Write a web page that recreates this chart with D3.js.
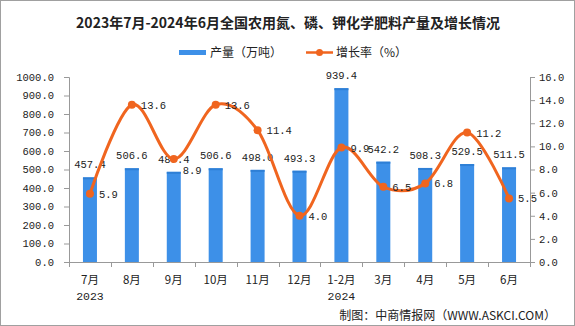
<!DOCTYPE html>
<html><head><meta charset="utf-8">
<script src="https://cdn.jsdelivr.net/npm/d3@7/dist/d3.min.js"></script>
<style>body{margin:0;background:#fff}svg{display:block}</style>
</head><body>
<svg id="c" width="575" height="326"></svg>
<script>
const categories = ["7月","8月","9月","10月","11月","12月","1-2月","3月","4月","5月","6月"];
const yearLabels = ["2023","","","","","","2024","","","",""];
const production = [457.4,506.6,487.4,506.6,498.0,493.3,939.4,542.2,508.3,529.5,511.5];
const growth = [5.9,13.6,8.9,13.6,11.4,4.0,9.9,6.5,6.8,11.2,5.5];
const leftTicks = [0,100,200,300,400,500,600,700,800,900,1000];
const rightTicks = [0,2,4,6,8,10,12,14,16];

const svg = d3.select("#c");
const mono = "'Liberation Mono','DejaVu Sans Mono',monospace";
const cjk = "'Noto Sans CJK SC','Noto Sans',sans-serif";
const blue = "#3d90e8", orange = "#f0651f", axisC = "#999";

svg.append("rect").attr("x",0.5).attr("y",0.5).attr("width",574).attr("height",325)
  .attr("fill","#fff").attr("stroke","#a0a0a0");

const L = 69, R = 530, T = 77, B = 262;
const x = d3.scaleBand().domain(categories).range([L,R]);
const yL = d3.scaleLinear().domain([0,1000]).range([B,T]);
const yR = d3.scaleLinear().domain([0,16]).range([B,T]);

// title
svg.append("text").attr("x",288).attr("y",28).attr("text-anchor","middle")
  .attr("font-family",cjk).attr("font-weight","bold").attr("font-size",14).attr("fill","#222")
  .text("2023年7月-2024年6月全国农用氮、磷、钾化学肥料产量及增长情况");

// legend
const lg = svg.append("g").attr("font-family",cjk).attr("font-size",12).attr("fill","#222");
lg.append("rect").attr("x",179).attr("y",50).attr("width",27).attr("height",5).attr("fill",blue);
lg.append("text").attr("x",210).attr("y",57).text("产量（万吨）");
lg.append("line").attr("x1",306).attr("x2",333).attr("y1",52.5).attr("y2",52.5).attr("stroke",orange).attr("stroke-width",2.5);
lg.append("circle").attr("cx",319.5).attr("cy",52.5).attr("r",3.5).attr("fill",orange);
lg.append("text").attr("x",336).attr("y",57).text("增长率（%）");

// axes
const axL = d3.axisLeft(yL).tickValues(leftTicks).tickFormat(d3.format(".1f")).tickSize(5).tickPadding(10);
const axR = d3.axisRight(yR).tickValues(rightTicks).tickFormat(d3.format(".1f")).tickSize(5).tickPadding(4);
function style(g){
  g.select(".domain").attr("stroke",axisC);
  g.selectAll(".tick line").attr("stroke",axisC);
  g.selectAll(".tick text").attr("font-family",mono).attr("font-size",10.5).attr("fill","#222");
}
svg.append("g").attr("transform",`translate(${L},0)`).call(axL).call(style);
svg.append("g").attr("transform",`translate(${R},0)`).call(axR).call(style);

// x axis
const xa = svg.append("g");
xa.append("line").attr("x1",L).attr("x2",R).attr("y1",B+0.5).attr("y2",B+0.5).attr("stroke",axisC);
xa.selectAll("line.t").data(d3.range(categories.length+1)).join("line")
  .attr("x1",i=>Math.round(L + i*x.step())+0.5).attr("x2",i=>Math.round(L + i*x.step())+0.5)
  .attr("y1",B).attr("y2",B+5).attr("stroke",axisC);
xa.selectAll("text.c").data(categories).join("text")
  .attr("x",d=>x(d)+x.bandwidth()/2).attr("y",284).attr("text-anchor","middle")
  .attr("font-family",cjk).attr("font-size",11.5).attr("fill","#222").text(d=>d);
xa.selectAll("text.yr").data(categories.map((c,i)=>({c,y:yearLabels[i]})).filter(d=>d.y)).join("text")
  .attr("x",d=>x(d.c)+x.bandwidth()/2).attr("y",300).attr("text-anchor","middle")
  .attr("font-family",mono).attr("font-size",11.5).attr("fill","#222").text(d=>d.y);

// bars
const bw = 14;
svg.selectAll("rect.bar").data(production).join("rect")
  .attr("x",(d,i)=>x(categories[i])+x.bandwidth()/2-bw/2).attr("width",bw)
  .attr("y",d=>yL(d)).attr("height",d=>B-yL(d)).attr("fill",blue);
svg.selectAll("rect.hl").data(production).join("rect")
  .attr("x",(d,i)=>x(categories[i])+x.bandwidth()/2-bw/2).attr("width",bw)
  .attr("y",d=>yL(d)).attr("height",2).attr("fill","#2e7fd6");
svg.selectAll("text.bl").data(production).join("text")
  .attr("x",(d,i)=>x(categories[i])+x.bandwidth()/2).attr("y",d=>yL(d)-9)
  .attr("text-anchor","middle").attr("font-family",mono).attr("font-size",10.5).attr("fill","#222")
  .text(d=>d.toFixed(1));

// line
const cx = i=>x(categories[i])+x.bandwidth()/2;
const line = d3.line().x((d,i)=>cx(i)).y(d=>yR(d)).curve(d3.curveCatmullRom.alpha(0));
svg.append("path").datum(growth).attr("d",line).attr("fill","none").attr("stroke",orange).attr("stroke-width",3);
svg.selectAll("circle.p").data(growth).join("circle")
  .attr("cx",(d,i)=>cx(i)).attr("cy",d=>yR(d)).attr("r",4).attr("fill",orange);
// nudge a growth label downward when it would sit on its bar's value label
function labelY(d,i){
  const y = yR(d)+4;
  const barLabelY = yL(production[i])-9;
  return Math.abs(y-barLabelY) < 10 ? barLabelY+11 : y;
}
svg.selectAll("text.gl").data(growth).join("text")
  .attr("x",(d,i)=>cx(i)+9).attr("y",labelY)
  .attr("font-family",mono).attr("font-size",10.5).attr("fill","#222").text(d=>d.toFixed(1));

// source
svg.append("text").attr("x",556).attr("y",320).attr("text-anchor","end")
  .attr("font-family",cjk).attr("font-size",12).attr("fill","#222")
  .text("制图：中商情报网（WWW.ASKCI.COM）");
</script>
</body></html>
